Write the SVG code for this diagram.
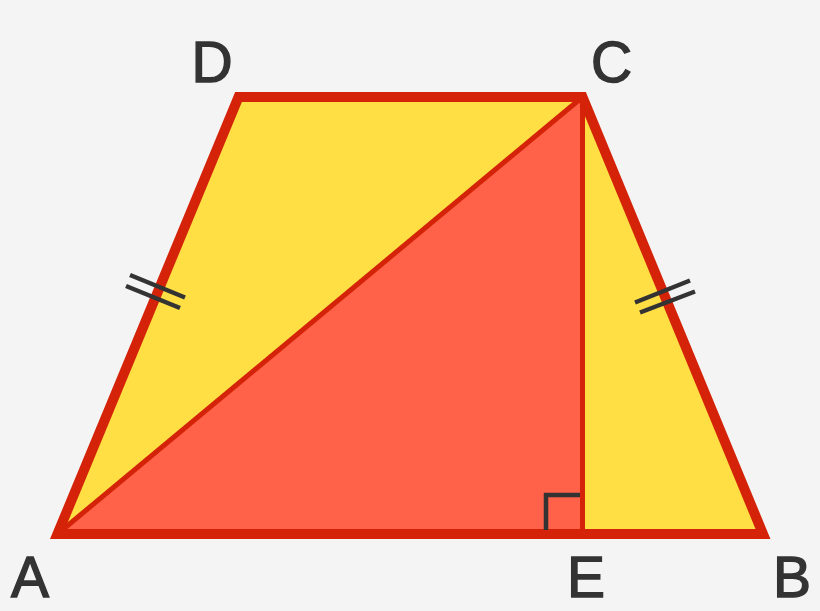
<svg xmlns="http://www.w3.org/2000/svg" width="820" height="611" viewBox="0 0 820 611">
<style>
.lbl{font-family:"Liberation Sans",Arial,sans-serif;font-size:57px;fill:#333333;stroke:#333333;stroke-width:1.4;text-anchor:middle}
.mark{stroke:#333333;stroke-width:4.5;fill:none}
.thin{stroke:#d42308;stroke-width:5;fill:none}
</style>
<rect width="820" height="611" fill="#f4f4f4"/>
<g id="trapezoid-fill">
<polygon points="57.5,534 238.5,97 582.5,97 763,534" fill="#ffdf43"/>
</g>
<g id="triangle-ACE">
<polygon points="57.5,534 582.5,97 582.5,534" fill="#ff6249"/>
</g>
<g id="connectors">
<line class="thin" x1="57.5" y1="534" x2="582.5" y2="97"/>
<line class="thin" x1="582.5" y1="97" x2="582.5" y2="534"/>
</g>
<g id="outline">
<polygon points="57.5,534 238.5,97 582.5,97 763,534" fill="none" stroke="#d42308" stroke-width="10" stroke-linejoin="miter"/>
</g>
<g id="marks">
<polyline class="mark" points="546,530 546,495 580,495"/>
<line class="mark" x1="130" y1="275" x2="185" y2="297.5"/>
<line class="mark" x1="126" y1="286" x2="180" y2="308"/>
<line class="mark" x1="635" y1="302.5" x2="690" y2="280.5"/>
<line class="mark" x1="640" y1="312.5" x2="695" y2="291.5"/>
</g>
<g id="labels">
<text id="label-D" class="lbl" x="212" y="82">D</text>
<text id="label-C" class="lbl" x="611.5" y="82">C</text>
<text id="label-A" class="lbl" x="30" y="597">A</text>
<text id="label-E" class="lbl" x="586" y="597">E</text>
<text id="label-B" class="lbl" x="792" y="597">B</text>
</g>
</svg>
